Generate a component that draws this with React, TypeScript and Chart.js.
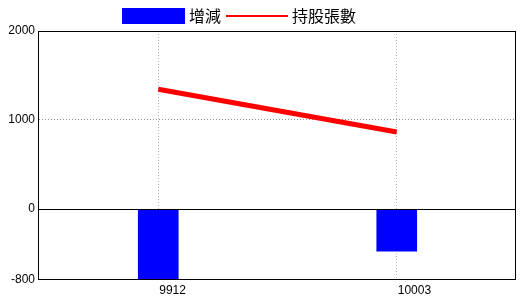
import React, { useEffect, useRef } from "react";
import { Chart, registerables } from "chart.js";

Chart.register(...registerables);

const categories = ["9912", "10003"];
const changeValues = [-800, -475];
const holdingValues = [1345, 865];
const yTicks = [-800, 0, 1000, 2000];
const legendLabels = ["增減", "持股張數"];

const BLUE = "#0000ff";
const RED = "#ff0000";
const CJK_FONT = "16px 'Noto Sans CJK TC', 'Noto Sans CJK SC', sans-serif";
const TICK_FONT_FAMILY = "'Liberation Sans Narrow', 'Liberation Sans', Arial, sans-serif";

const framePlugin = {
  id: "frame",
  afterDatasetsDraw(chart: any) {
    const { ctx, chartArea } = chart;
    const y = chart.scales.y;
    ctx.save();
    const zy = Math.round(y.getPixelForValue(0)) + 0.5;
    ctx.strokeStyle = "#000";
    ctx.lineWidth = 1;
    ctx.beginPath();
    ctx.moveTo(chartArea.left, zy);
    ctx.lineTo(chartArea.right, zy);
    ctx.stroke();
    ctx.strokeRect(
      Math.round(chartArea.left) - 0.5,
      Math.round(chartArea.top) + 0.5,
      Math.round(chartArea.right - chartArea.left),
      Math.round(chartArea.bottom - chartArea.top) - 1
    );
    ctx.restore();
  },
  afterDraw(chart: any) {
    const { ctx } = chart;
    ctx.save();
    ctx.fillStyle = BLUE;
    ctx.fillRect(122, 8, 63, 16);
    ctx.fillStyle = "#000";
    ctx.font = CJK_FONT;
    ctx.textBaseline = "middle";
    ctx.textAlign = "left";
    ctx.fillText(legendLabels[0], 189, 16);
    ctx.strokeStyle = RED;
    ctx.lineWidth = 2;
    ctx.beginPath();
    ctx.moveTo(226, 16);
    ctx.lineTo(288, 16);
    ctx.stroke();
    ctx.fillText(legendLabels[1], 292, 16);
    ctx.restore();
  },
};

export default function App() {
  const ref = useRef<HTMLCanvasElement | null>(null);

  useEffect(() => {
    document.body.style.margin = "0";
    const canvas = ref.current;
    if (!canvas) return;
    const chart = new Chart(canvas, {
      type: "bar",
      data: {
        labels: categories,
        datasets: [
          {
            type: "line",
            label: legendLabels[1],
            data: holdingValues,
            borderColor: RED,
            backgroundColor: RED,
            borderWidth: 5,
            pointRadius: 0,
            tension: 0,
            order: 0,
          } as any,
          {
            type: "bar",
            label: legendLabels[0],
            data: changeValues,
            backgroundColor: BLUE,
            borderWidth: 0,
            barThickness: 40,
            order: 1,
          },
        ],
      },
      options: {
        animation: false,
        responsive: false,
        maintainAspectRatio: false,
        layout: { padding: { top: 31, right: 4, left: 0, bottom: 0 } },
        plugins: {
          legend: { display: false },
          tooltip: { enabled: false },
        },
        scales: {
          x: {
            offset: true,
            grid: {
              offset: false,
              color: "#a8b8c8",
              drawTicks: false,
            },
            border: { display: false, dash: [1, 2] },
            ticks: {
              color: "#000",
              font: { family: TICK_FONT_FAMILY, size: 12 },
              align: "start",
              labelOffset: 1,
              padding: 3,
              autoSkip: false,
              maxRotation: 0,
            },
            afterFit(scale: any) {
              scale.height = 20;
            },
          },
          y: {
            min: -800,
            max: 2000,
            grid: {
              color: (c: any) =>
                c.tick && c.tick.value === 1000 ? "#909090" : "rgba(0,0,0,0)",
              drawTicks: false,
            },
            border: { display: false, dash: [1, 2] },
            ticks: {
              color: "#000",
              font: { family: TICK_FONT_FAMILY, size: 12 },
              padding: 4,
              callback: (v: any) => String(v),
            },
            afterBuildTicks(scale: any) {
              scale.ticks = yTicks.map((v) => ({ value: v }));
            },
            afterFit(scale: any) {
              scale.width = 39;
            },
          },
        },
      },
      plugins: [framePlugin],
    });
    return () => chart.destroy();
  }, []);

  return (
    <div style={{ width: 520, height: 300, background: "#fff" }}>
      <canvas ref={ref} width={520} height={300} style={{ display: "block" }} />
    </div>
  );
}
